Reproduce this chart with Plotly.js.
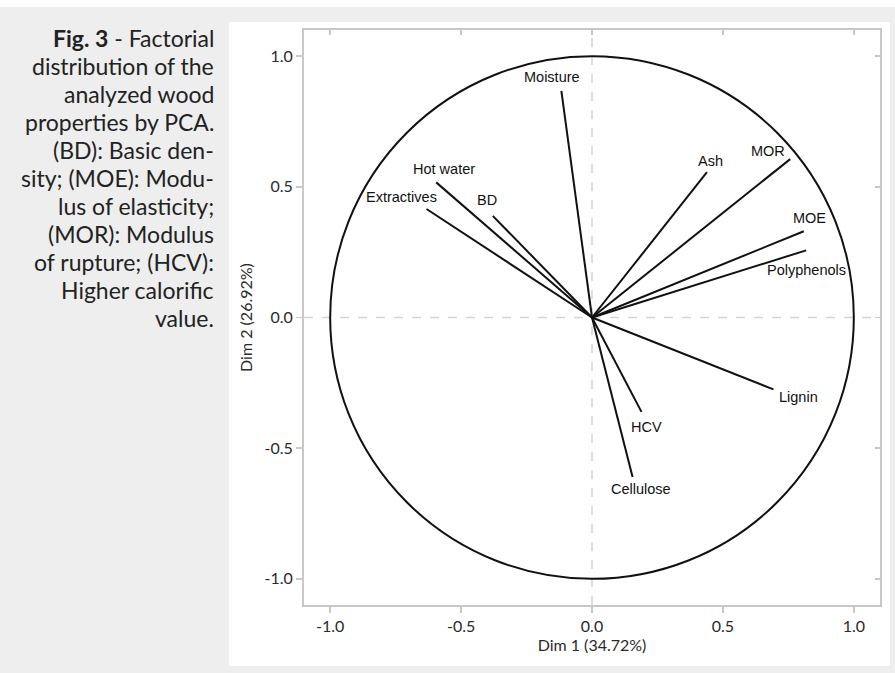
<!DOCTYPE html>
<html>
<head>
<meta charset="utf-8">
<script src="https://cdn.plot.ly/plotly-3.0.1.min.js"></script>
<style>
  html, body { margin: 0; padding: 0; background: #ffffff; }
  #bg { position: absolute; left: 0; top: 7px; width: 895px; height: 666px; background: #eeeeee; }
  #panel { position: absolute; left: 229px; top: 22px; width: 661px; height: 644px; background: #ffffff; }
  #chart { position: absolute; left: 0; top: 0; width: 895px; height: 673px; }
</style>
</head>
<body>
<div id="bg"></div>
<div id="panel"></div>
<div id="chart"></div>
<script>
// Variable names and their coordinates on Dim 1 / Dim 2
const variables = ["Moisture", "Hot water", "Extractives", "BD", "Ash", "MOR", "MOE", "Polyphenols", "Lignin", "HCV", "Cellulose"];
const dim1 = [-0.117, -0.595, -0.632, -0.379, 0.439, 0.757, 0.809, 0.818, 0.693, 0.189, 0.155];
const dim2 = [0.867, 0.517, 0.415, 0.389, 0.556, 0.606, 0.330, 0.257, -0.275, -0.361, -0.610];

const tickValues = [-1.0, -0.5, 0.0, 0.5, 1.0];
const tickLabels = ["-1.0", "-0.5", "0.0", "0.5", "1.0"];

const xTitle = "Dim 1 (34.72%)";
const yTitle = "Dim 2 (26.92%)";
const captionLines = [
  "<b>Fig. 3</b> - Factorial",
  "distribution of the",
  "analyzed wood",
  "properties by PCA.",
  "(BD): Basic den-",
  "sity; (MOE): Modu-",
  "lus of elasticity;",
  "(MOR): Modulus",
  "of rupture; (HCV):",
  "Higher calorific",
  "value."
];

// label offsets in pixels (style)
const labelShift = {
  "Moisture": [-9, 14], "Hot water": [8, 13], "Extractives": [-25, 12], "BD": [-6, 16],
  "Ash": [4, 11], "MOR": [-22, 8], "MOE": [6, 13], "Polyphenols": [0, -20],
  "Lignin": [25, -8], "HCV": [5, -15], "Cellulose": [8, -12]
};

const lx = [], ly = [];
variables.forEach((v, i) => { lx.push(0, dim1[i], null); ly.push(0, dim2[i], null); });

const traces = [
  {
    x: lx, y: ly, type: "scatter", mode: "lines",
    line: { color: "#111111", width: 2 }, hoverinfo: "skip", showlegend: false
  },
  {
    x: [0], y: [0], xaxis: "x2", yaxis: "y2", type: "scatter", mode: "markers",
    marker: { opacity: 0 }, hoverinfo: "skip", showlegend: false
  }
];

const tickFont = { family: "Lato, 'Open Sans', sans-serif", size: 16, color: "#2a2a2a" };

const annotations = variables.map((v, i) => ({
  x: dim1[i], y: dim2[i], xref: "x", yref: "y", text: v, showarrow: false,
  xshift: labelShift[v][0], yshift: labelShift[v][1],
  font: { family: "'Liberation Sans', Arial, sans-serif", size: 14.5, color: "#111111" }
}));

const plotTop = 30, plotH = 575, plotL = 304, plotW = 576;
captionLines.forEach((line, i) => {
  const yc = 38 + i * 28;
  annotations.push({
    xref: "paper", yref: "paper", x: (216 - plotL) / plotW, y: 1 - (yc - plotTop) / plotH,
    xanchor: "right", yanchor: "middle", align: "right", showarrow: false,
    text: line,
    font: { family: "Lato, 'Open Sans', sans-serif", size: 23, color: "#222222" }
  });
});

const axisCommon = {
  range: [-1.1, 1.1], tickmode: "array", tickvals: tickValues, ticktext: tickLabels,
  showgrid: false, zeroline: false, showline: true, linecolor: "#c8c8c8", linewidth: 2,
  mirror: true, ticks: "outside", ticklen: 6, tickcolor: "#c8c8c8", tickwidth: 1.5,
  tickfont: tickFont
};

const layout = {
  width: 895, height: 673,
  margin: { l: plotL, r: 15, t: plotTop, b: 68 },
  paper_bgcolor: "rgba(0,0,0,0)", plot_bgcolor: "rgba(0,0,0,0)",
  showlegend: false,
  xaxis: Object.assign({}, axisCommon, {
    title: { text: xTitle, font: tickFont, standoff: 4 }
  }),
  yaxis: Object.assign({}, axisCommon, {
    title: { text: yTitle, font: tickFont, standoff: 8 }
  }),
  xaxis2: {
    overlaying: "x", side: "top", range: [-1.1, 1.1], tickmode: "array", tickvals: tickValues,
    showticklabels: false, ticks: "inside", ticklen: 5, tickcolor: "#c8c8c8", tickwidth: 1.5,
    showgrid: false, zeroline: false, showline: false
  },
  yaxis2: {
    overlaying: "y", side: "right", range: [-1.1, 1.1], tickmode: "array", tickvals: tickValues,
    showticklabels: false, ticks: "inside", ticklen: 5, tickcolor: "#c8c8c8", tickwidth: 1.5,
    showgrid: false, zeroline: false, showline: false
  },
  shapes: [
    { type: "line", xref: "x", yref: "paper", x0: 0, x1: 0, y0: 0, y1: 1,
      line: { color: "#d4d4d4", width: 1.5, dash: "dash" }, layer: "below" },
    { type: "line", xref: "paper", yref: "y", x0: 0, x1: 1, y0: 0, y1: 0,
      line: { color: "#d4d4d4", width: 1.5, dash: "dash" }, layer: "below" },
    { type: "circle", xref: "x", yref: "y", x0: -1, x1: 1, y0: -1, y1: 1,
      line: { color: "#111111", width: 2 } }
  ],
  annotations: annotations
};

Plotly.newPlot("chart", traces, layout, { displayModeBar: false, staticPlot: true });
</script>
</body>
</html>
